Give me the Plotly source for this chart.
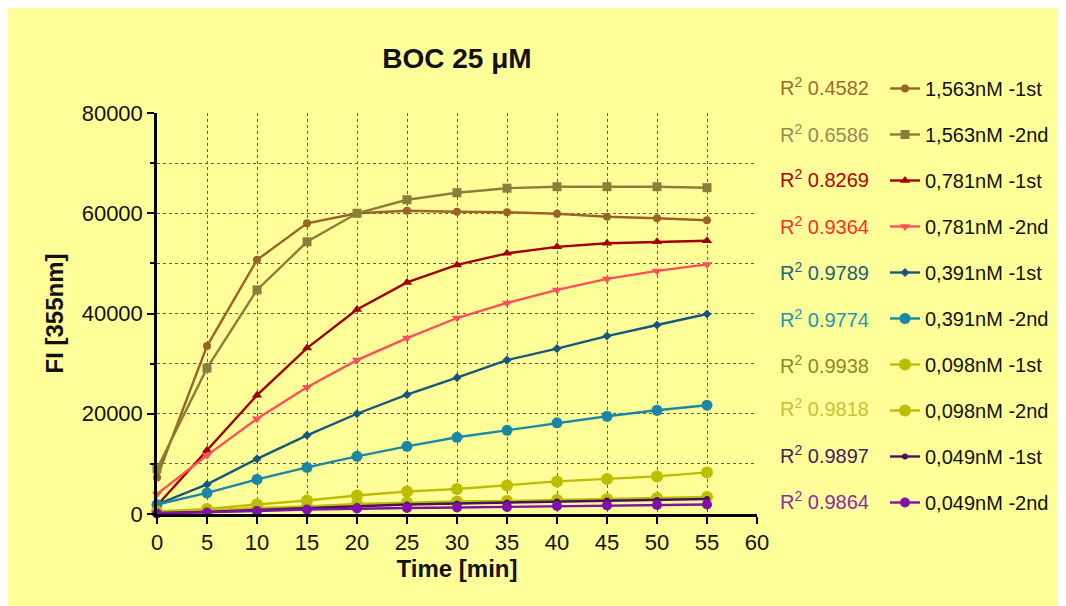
import plotly.graph_objects as go

time_min = [0, 5, 10, 15, 20, 25, 30, 35, 40, 45, 50, 55]

s_1563_1st = [7300, 33500, 50700, 58000, 60000, 60500, 60300, 60200, 59900, 59300, 59000, 58600]
s_1563_2nd = [9000, 29100, 44700, 54300, 60000, 62700, 64100, 65000, 65300, 65300, 65300, 65100]
s_0781_1st = [1700, 12700, 23700, 33100, 40800, 46200, 49700, 52000, 53300, 54000, 54300, 54500]
s_0781_2nd = [4000, 11700, 19000, 25300, 30700, 35100, 39100, 42100, 44700, 46900, 48500, 49800]
s_0391_1st = [1900, 5900, 11000, 15700, 20000, 23800, 27200, 30700, 33000, 35500, 37700, 39900]
s_0391_2nd = [1900, 4200, 6900, 9300, 11500, 13500, 15300, 16700, 18200, 19500, 20700, 21700]
s_0098_1st = [500, 1000, 1900, 2700, 3700, 4500, 5000, 5700, 6500, 7000, 7500, 8300]
s_0098_2nd = [400, 700, 1200, 1500, 2000, 2300, 2500, 2600, 2800, 3000, 3200, 3400]
s_0049_1st = [200, 400, 800, 1200, 1600, 1900, 2100, 2300, 2500, 2700, 2800, 3000]
s_0049_2nd = [100, 300, 600, 900, 1100, 1200, 1300, 1400, 1600, 1700, 1800, 1900]

series_names = ["1,563nM -1st", "1,563nM -2nd", "0,781nM -1st", "0,781nM -2nd",
                "0,391nM -1st", "0,391nM -2nd", "0,098nM -1st", "0,098nM -2nd",
                "0,049nM -1st", "0,049nM -2nd"]
series_values = [s_1563_1st, s_1563_2nd, s_0781_1st, s_0781_2nd, s_0391_1st,
                 s_0391_2nd, s_0098_1st, s_0098_2nd, s_0049_1st, s_0049_2nd]
r2_values = ["0.4582", "0.6586", "0.8269", "0.9364", "0.9789",
             "0.9774", "0.9938", "0.9818", "0.9897", "0.9864"]

line_colors = ["#9A6428", "#8B7D3A", "#A00000", "#FF4F5A", "#17587A",
               "#1A87A6", "#BDBD00", "#BDBD00", "#4A1060", "#8010A8"]
r2_colors = ["#9C6B30", "#958A5A", "#B00000", "#FF2A2A", "#1F5F7F",
             "#2096B8", "#8A8A1E", "#C4C430", "#4A1A5E", "#8A2BA8"]
symbols = ["circle", "square", "triangle-up", "triangle-down", "diamond",
           "circle", "circle", "circle", "circle", "circle"]
sizes = [8, 9, 9, 9, 7, 11, 12, 12, 6, 10]

fig = go.Figure()
for i, (name, vals) in enumerate(zip(series_names, series_values)):
    fig.add_trace(go.Scatter(
        x=time_min, y=vals, name=name, mode="lines+markers",
        line=dict(color=line_colors[i], width=2.4),
        marker=dict(symbol=symbols[i], size=sizes[i], color=line_colors[i]),
        legendgroup=f"g{i}", cliponaxis=False,
    ))

# figure geometry in figure pixels (page has an 8px body margin)
W, H = 1058, 598
L, R, T, B = 149, 749, 105, 506
row_y = [78, 125, 170, 217, 263, 310, 356, 399, 446, 492]

annotations = []
for i, r2 in enumerate(r2_values):
    annotations.append(dict(
        xref="paper", yref="paper",
        x=(770 - L) / (R - L), y=(B - row_y[i]) / (B - T),
        xanchor="left", yanchor="middle", showarrow=False,
        text=f"R<sup>2</sup> {r2}",
        font=dict(family="Arial, Liberation Sans, sans-serif", size=20, color=r2_colors[i]),
    ))

font_family = "Arial, Liberation Sans, sans-serif"

fig.update_layout(
    width=W, height=H,
    margin=dict(l=L, r=W - R, t=T, b=H - B, autoexpand=False),
    paper_bgcolor="#FFFF99", plot_bgcolor="#FFFF99",
    font=dict(family=font_family, color="#111111"),
    title=dict(text="<b>BOC 25 μM</b>", x=449 / W, xanchor="center",
               y=1 - 50 / H, yanchor="middle",
               font=dict(size=28, color="#111111", family=font_family)),
    showlegend=True,
    legend=dict(
        x=(877 - L) / (R - L), xanchor="left",
        y=(B - 61) / (B - T), yanchor="top",
        bgcolor="rgba(0,0,0,0)", borderwidth=0,
        tracegroupgap=17, maxheight=590,
        font=dict(size=20, color="#111111", family=font_family),
    ),
    annotations=annotations,
)

fig.update_xaxes(
    range=[0, 60], tickmode="linear", tick0=0, dtick=5,
    showline=True, linecolor="black", linewidth=2.5,
    ticks="outside", ticklen=7, tickwidth=2, tickcolor="black",
    showgrid=True, gridcolor="#5E5E50", griddash="dot", gridwidth=1,
    zeroline=False, mirror=False,
    tickfont=dict(size=22, color="#111111"),
    title=dict(text="<b>Time [min]</b>", font=dict(size=24, color="#111111"), standoff=4),
)
fig.update_yaxes(
    range=[0, 80000], tickmode="linear", tick0=0, dtick=20000, tickformat="d",
    showline=True, linecolor="black", linewidth=2.5,
    ticks="outside", ticklen=7, tickwidth=2, tickcolor="black",
    showgrid=True, gridcolor="#5E5E50", griddash="dot", gridwidth=1,
    minor=dict(dtick=10000, ticks="outside", ticklen=4, tickwidth=2, tickcolor="black",
               showgrid=True, gridcolor="#5E5E50", griddash="dot", gridwidth=1),
    zeroline=False,
    tickfont=dict(size=22, color="#111111"),
    title=dict(text="<b>FI [355nm]</b>", font=dict(size=24, color="#111111"), standoff=12),
)

fig.write_html("out.html")
